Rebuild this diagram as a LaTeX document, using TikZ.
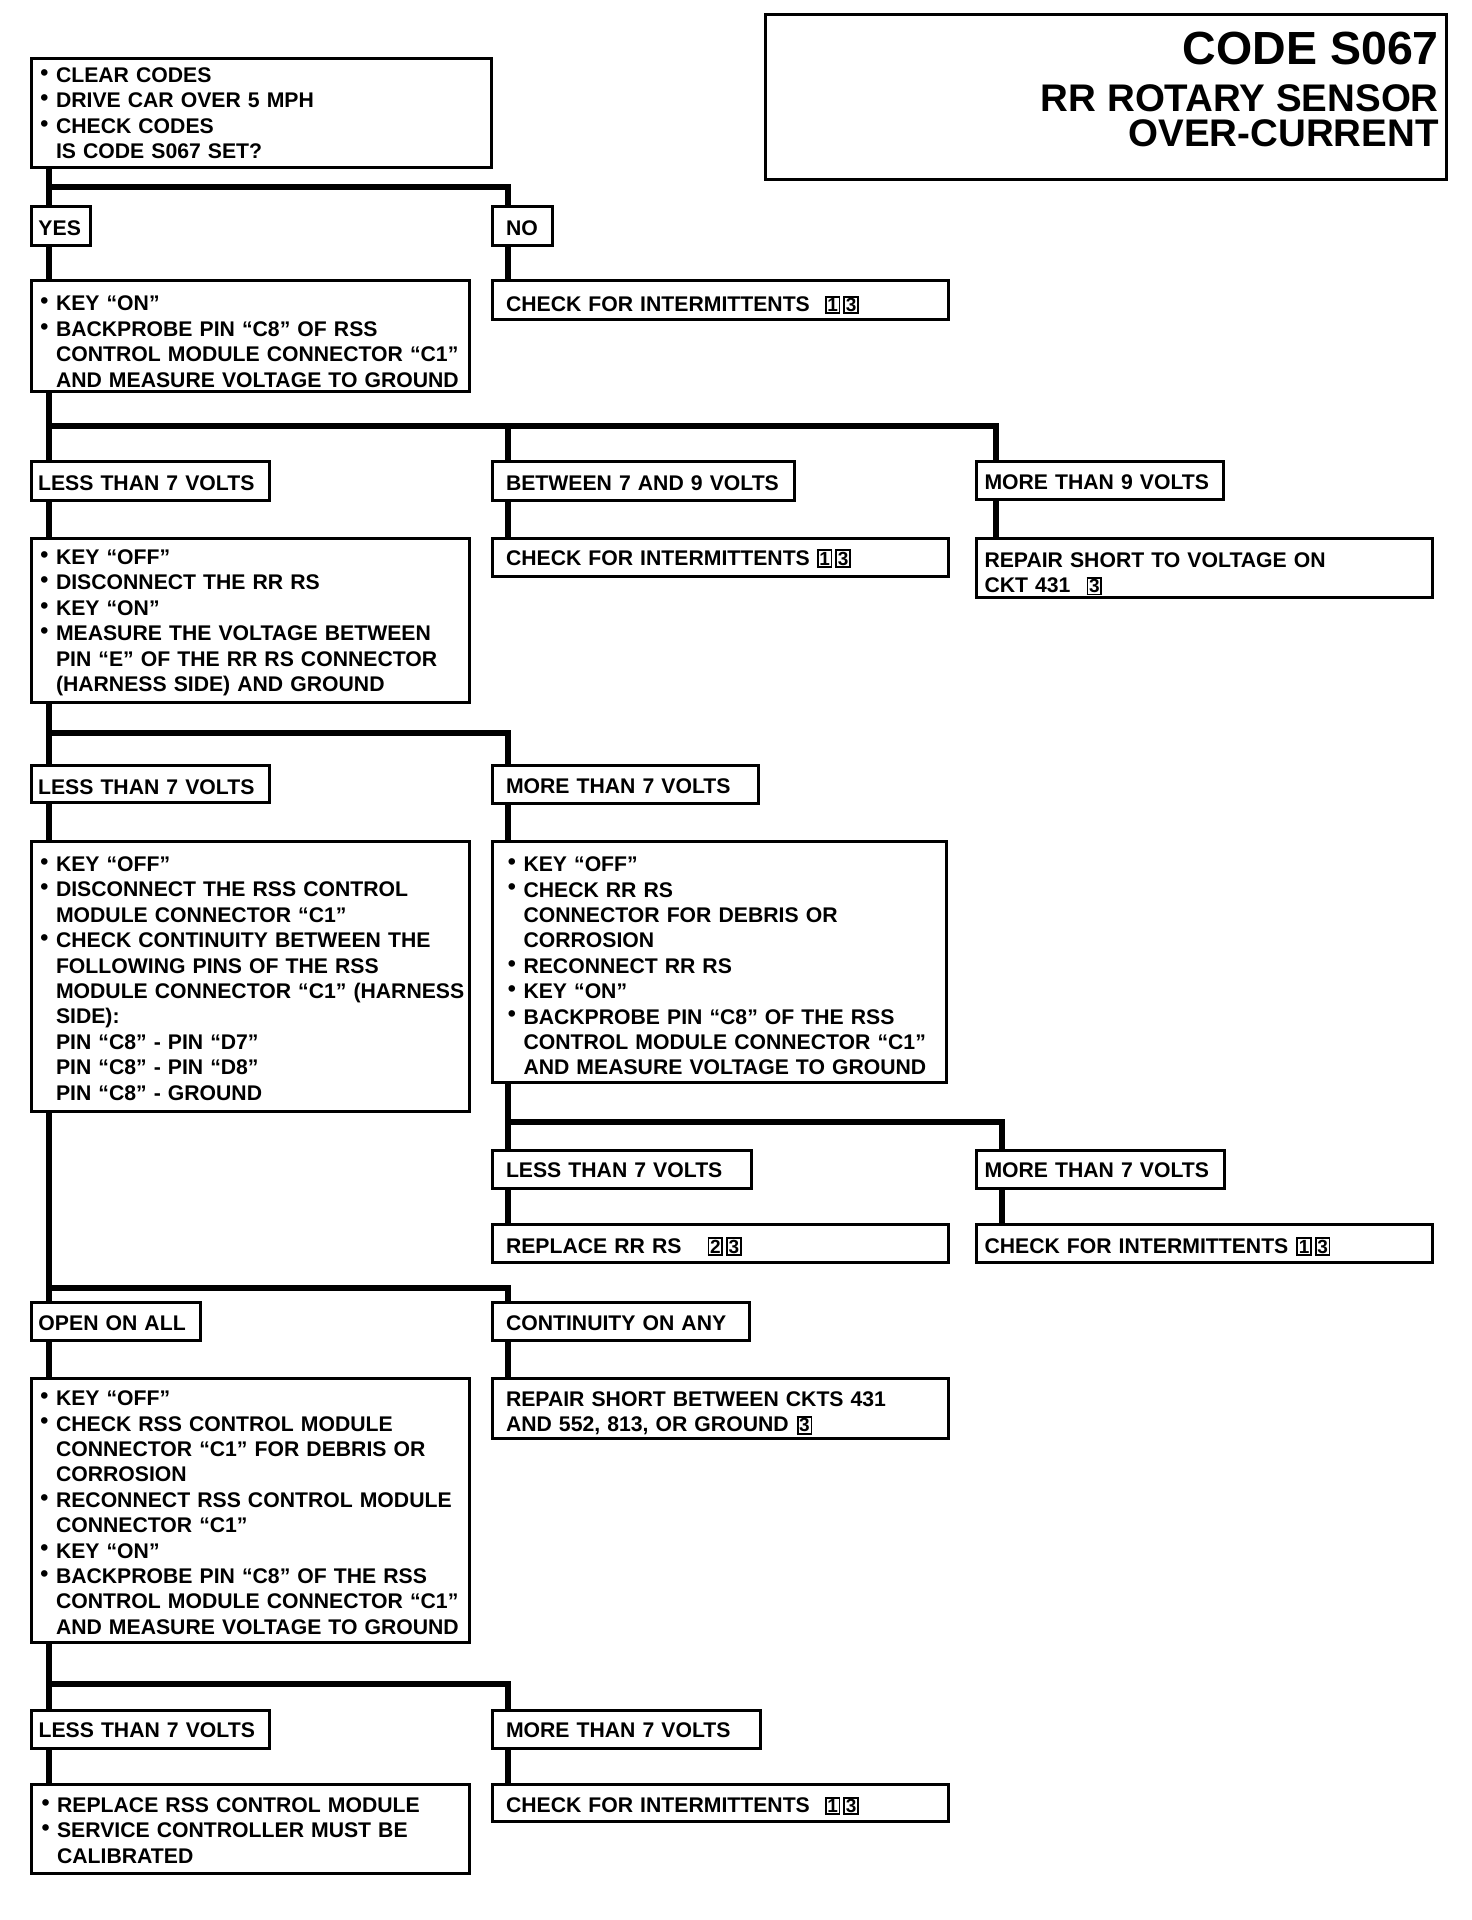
\documentclass[tikz,border=0pt]{standalone}
\usepackage{fontspec}
\setmainfont{Liberation Sans}
\newcommand\bodyfont{\fontsize{21.2pt}{25.4pt}\selectfont\bfseries}
\newcommand\setL[1]{\leftskip=#1pt\rightskip=-40pt plus 1fil\relax}
\newcommand\bu{\leavevmode\llap{\raisebox{2.2pt}{\fontsize{23pt}{23pt}\selectfont •}\hspace{7.5pt}}}
\newcommand\bdg[1]{{\setlength\fboxsep{0.7pt}\setlength\fboxrule{1.8pt}\fbox{\fontsize{19pt}{19pt}\selectfont #1}}}
\begin{document}
\begin{tikzpicture}[x=1pt,y=-1pt,
  box/.style={draw, line width=3.2pt, inner xsep=0pt, inner ysep=0pt, anchor=north west,
    font=\bodyfont, text height=18pt, text depth=0pt},
  sz/.style 2 args={minimum width=#1pt, text width=#1pt, minimum height=#2pt},
  lft/.style={execute at begin node={\setL{#1}}},
  tv/.style 2 args={text height=#1pt, text depth=#2pt},
  conn/.style={line width=5.5pt},
  ttl/.style={anchor=base east, inner sep=0pt, text depth=0pt}]
\useasboundingbox (0,0) rectangle (1472,1920);

% title
\node[box, sz={680.8}{164.8}] (titlebox) at (764,13) {};
\node[ttl, text height=34pt, font=\fontsize{46.5pt}{46.5pt}\selectfont\bfseries] (t1) at (1439,64) {CODE S067};
\node[ttl, text height=28pt, font=\fontsize{38.5pt}{38.5pt}\selectfont\bfseries] (t2) at (1439,111) {RR ROTARY SENSOR};
\node[ttl, text height=28pt, font=\fontsize{38.5pt}{38.5pt}\selectfont\bfseries] (t3) at (1439,146) {OVER-CURRENT};

% boxes
\node[box, sz={459.8}{108.8}, lft=24.4, tv={15}{76.2}] (b1) at (30,57)
  {\bu CLEAR CODES\\ \bu DRIVE CAR OVER 5 MPH\\ \bu CHECK CODES\\ IS CODE S067 SET?};
\node[box, sz={58.8}{38.8}, lft=6.9] (yes) at (30,205) {YES};
\node[box, sz={59.8}{38.8}, lft=13.4] (no) at (491,205) {NO};
\node[box, sz={437.8}{110.8}, lft=24.4, tv={26}{76.2}] (b2) at (30,279)
  {\bu KEY “ON”\\ \bu BACKPROBE PIN “C8” OF RSS\\ CONTROL MODULE CONNECTOR “C1”\\ AND MEASURE VOLTAGE TO GROUND};
\node[box, sz={455.8}{38.8}, lft=13.4, text height=23pt] (c1) at (491,279)
  {CHECK FOR INTERMITTENTS\hspace{15pt}\bdg{1}\hspace{3pt}\bdg{3}};
\node[box, sz={237.8}{38.8}, lft=6.5] (l1) at (30,460) {LESS THAN 7 VOLTS};
\node[box, sz={301.8}{38.8}, lft=13.4] (bt) at (491,460) {BETWEEN 7 AND 9 VOLTS};
\node[box, sz={246.8}{37.8}, lft=7.9] (m9) at (975,460) {MORE THAN 9 VOLTS};
\node[box, sz={437.8}{163.8}, lft=24.4, tv={15}{127}] (b3) at (30,537)
  {\bu KEY “OFF”\\ \bu DISCONNECT THE RR RS\\ \bu KEY “ON”\\ \bu MEASURE THE VOLTAGE BETWEEN\\ PIN “E” OF THE RR RS CONNECTOR\\ (HARNESS SIDE) AND GROUND};
\node[box, sz={455.8}{37.8}, lft=13.4, text height=15pt] (c2) at (491,537)
  {CHECK FOR INTERMITTENTS\hspace{7pt}\bdg{1}\hspace{3pt}\bdg{3}};
\node[box, sz={455.8}{58.8}, lft=7.9, tv={24}{25.4}] (r9) at (975,537)
  {REPAIR SHORT TO VOLTAGE ON\\ CKT 431\hspace{16pt}\bdg{3}};
\node[box, sz={237.8}{36.8}, lft=6.5, text height=20pt] (l2) at (30,764) {LESS THAN 7 VOLTS};
\node[box, sz={265.8}{37.8}, lft=13.4] (m7a) at (491,764) {MORE THAN 7 VOLTS};
\node[box, sz={437.8}{269.8}, lft=24.4, tv={18.6}{228.6}] (b4) at (30,840)
  {\bu KEY “OFF”\\ \bu DISCONNECT THE RSS CONTROL\\ MODULE CONNECTOR “C1”\\ \bu CHECK CONTINUITY BETWEEN THE\\ FOLLOWING PINS OF THE RSS\\ MODULE CONNECTOR “C1” (HARNESS\\ SIDE):\\ PIN “C8” - PIN “D7”\\ PIN “C8” - PIN “D8”\\ PIN “C8” - GROUND};
\node[box, sz={453.8}{240.8}, lft=30.9, tv={22.6}{203.2}] (b5) at (491,840)
  {\bu KEY “OFF”\\ \bu CHECK RR RS\\ CONNECTOR FOR DEBRIS OR\\ CORROSION\\ \bu RECONNECT RR RS\\ \bu KEY “ON”\\ \bu BACKPROBE PIN “C8” OF THE RSS\\ CONTROL MODULE CONNECTOR “C1”\\ AND MEASURE VOLTAGE TO GROUND};
\node[box, sz={258.8}{37.8}, lft=13.4, text height=16.5pt] (l3) at (491,1149) {LESS THAN 7 VOLTS};
\node[box, sz={247.8}{37.8}, lft=7.9, text height=16.5pt] (m7b) at (975,1149) {MORE THAN 7 VOLTS};
\node[box, sz={455.8}{37.8}, lft=13.4, text height=19pt] (rrs) at (491,1223)
  {REPLACE RR RS\hspace{26pt}\bdg{2}\hspace{3pt}\bdg{3}};
\node[box, sz={455.8}{37.8}, lft=7.9, text height=19pt] (c3) at (975,1223)
  {CHECK FOR INTERMITTENTS\hspace{8pt}\bdg{1}\hspace{3pt}\bdg{3}};
\node[box, sz={168.8}{37.8}, lft=6.9] (oa) at (30,1301) {OPEN ON ALL};
\node[box, sz={256.8}{37.8}, lft=13.4] (ca) at (491,1301) {CONTINUITY ON ANY};
\node[box, sz={437.8}{263.8}, lft=24.4, tv={19}{228.6}] (b6) at (30,1377)
  {\bu KEY “OFF”\\ \bu CHECK RSS CONTROL MODULE\\ CONNECTOR “C1” FOR DEBRIS OR\\ CORROSION\\ \bu RECONNECT RSS CONTROL MODULE\\ CONNECTOR “C1”\\ \bu KEY “ON”\\ \bu BACKPROBE PIN “C8” OF THE RSS\\ CONTROL MODULE CONNECTOR “C1”\\ AND MEASURE VOLTAGE TO GROUND};
\node[box, sz={455.8}{59.8}, lft=13.4, tv={21.4}{25.4}] (rsb) at (491,1377)
  {REPAIR SHORT BETWEEN CKTS 431\\ AND 552, 813, OR GROUND\hspace{8pt}\bdg{3}};
\node[box, sz={237.8}{37.8}, lft=7, text height=16.5pt] (l4) at (30,1709) {LESS THAN 7 VOLTS};
\node[box, sz={267.8}{37.8}, lft=13.4, text height=16.5pt] (m4) at (491,1709) {MORE THAN 7 VOLTS};
\node[box, sz={437.8}{88.8}, lft=25.5, tv={17.6}{50.8}] (b7) at (30,1783)
  {\bu REPLACE RSS CONTROL MODULE\\ \bu SERVICE CONTROLLER MUST BE\\ CALIBRATED};
\node[box, sz={455.8}{36.8}, lft=13.4, text height=19pt] (c4) at (491,1783)
  {CHECK FOR INTERMITTENTS\hspace{15pt}\bdg{1}\hspace{3pt}\bdg{3}};

% trunk coordinates
\coordinate (tx) at (49,0);
\coordinate (rx) at (508,0);
\coordinate (fx1) at (996,0);
\coordinate (fx2) at (1002,0);
\coordinate (j1) at (49,187);
\coordinate (j2) at (49,426);
\coordinate (j3) at (49,733);
\coordinate (j4) at (508,1122);
\coordinate (j5) at (49,1288);
\coordinate (j6) at (49,1684);

% connectors
\draw[conn] (b1.south -| tx) -- (yes.north -| tx);
\draw[conn] (j1) -| (no.north -| rx);
\draw[conn] (yes.south -| tx) -- (b2.north -| tx);
\draw[conn] (no.south -| rx) -- (c1.north -| rx);
\draw[conn] (b2.south -| tx) -- (l1.north -| tx);
\draw[conn] (j2) -| (m9.north -| fx1);
\draw[conn] (j2 -| rx) -- (bt.north -| rx);
\draw[conn] (l1.south -| tx) -- (b3.north -| tx);
\draw[conn] (bt.south -| rx) -- (c2.north -| rx);
\draw[conn] (m9.south -| fx1) -- (r9.north -| fx1);
\draw[conn] (b3.south -| tx) -- (l2.north -| tx);
\draw[conn] (j3) -| (m7a.north -| rx);
\draw[conn] (l2.south -| tx) -- (b4.north -| tx);
\draw[conn] (m7a.south -| rx) -- (b5.north -| rx);
\draw[conn] (b5.south -| rx) -- (l3.north -| rx);
\draw[conn] (j4) -| (m7b.north -| fx2);
\draw[conn] (l3.south -| rx) -- (rrs.north -| rx);
\draw[conn] (m7b.south -| fx2) -- (c3.north -| fx2);
\draw[conn] (b4.south -| tx) -- (oa.north -| tx);
\draw[conn] (j5) -| (ca.north -| rx);
\draw[conn] (oa.south -| tx) -- (b6.north -| tx);
\draw[conn] (ca.south -| rx) -- (rsb.north -| rx);
\draw[conn] (b6.south -| tx) -- (l4.north -| tx);
\draw[conn] (j6) -| (m4.north -| rx);
\draw[conn] (l4.south -| tx) -- (b7.north -| tx);
\draw[conn] (m4.south -| rx) -- (c4.north -| rx);
\end{tikzpicture}
\end{document}
